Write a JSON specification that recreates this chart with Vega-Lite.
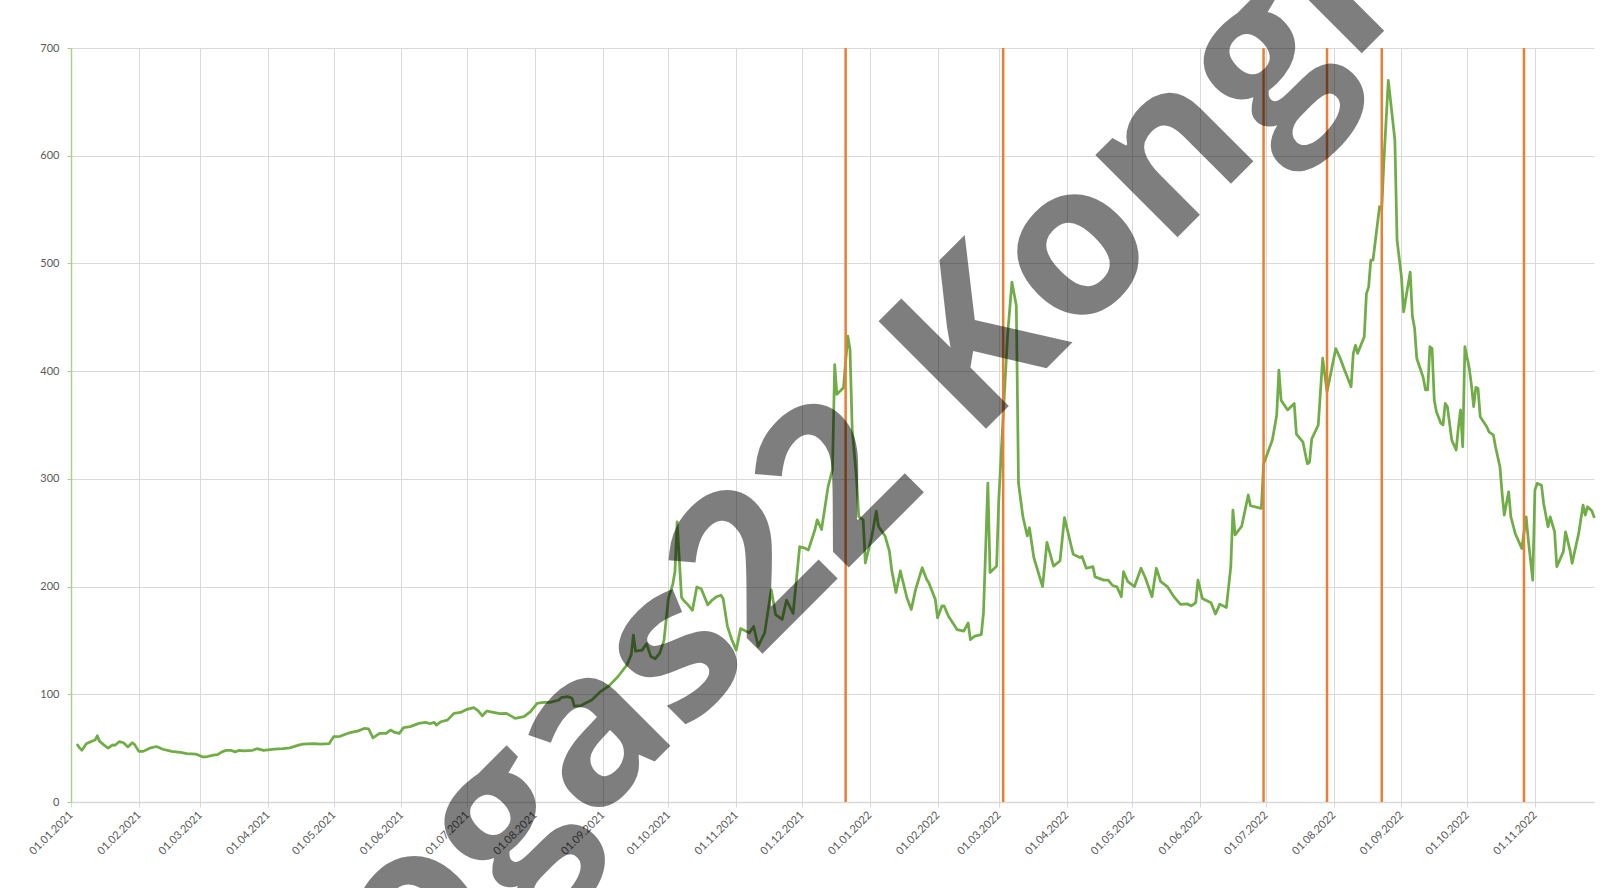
{
  "$schema": "https://vega.github.io/schema/vega-lite/v6.json",
  "autosize": {"type": "none"},
  "padding": {"left": 71, "top": 48, "right": 17, "bottom": 86},
  "width": 1523,
  "height": 754,
  "background": "white",
  "config": {
    "view": {"stroke": null},
    "axis": {"labelFont": "Lato", "labelFontSize": 11, "labelColor": "#595959", "gridColor": "#d9d9d9", "gridWidth": 1, "title": null}
  },
  "datasets": {
    "price": [
      {"d":"2021-01-04","v":53},{"d":"2021-01-05","v":50},{"d":"2021-01-06","v":48},{"d":"2021-01-08","v":54},{"d":"2021-01-10","v":56},{"d":"2021-01-12","v":57.5},{"d":"2021-01-13","v":61.5},{"d":"2021-01-14","v":56.5},{"d":"2021-01-16","v":53},{"d":"2021-01-18","v":50},{"d":"2021-01-20","v":53},{"d":"2021-01-21","v":52.5},{"d":"2021-01-23","v":56},{"d":"2021-01-25","v":55},{"d":"2021-01-27","v":51},{"d":"2021-01-29","v":55},{"d":"2021-01-30","v":53.5},
      {"d":"2021-02-01","v":47},{"d":"2021-02-03","v":47},{"d":"2021-02-06","v":50},{"d":"2021-02-09","v":51.5},{"d":"2021-02-12","v":49},{"d":"2021-02-16","v":47},{"d":"2021-02-20","v":46},{"d":"2021-02-23","v":45},{"d":"2021-02-27","v":44.5},
      {"d":"2021-03-02","v":42},{"d":"2021-03-04","v":42},{"d":"2021-03-07","v":43.5},{"d":"2021-03-09","v":44},{"d":"2021-03-11","v":46.5},{"d":"2021-03-13","v":48},{"d":"2021-03-15","v":48},{"d":"2021-03-17","v":46.5},{"d":"2021-03-19","v":48},{"d":"2021-03-21","v":47.5},{"d":"2021-03-25","v":48},{"d":"2021-03-27","v":49.5},{"d":"2021-03-30","v":48},
      {"d":"2021-04-04","v":49},{"d":"2021-04-08","v":49.5},{"d":"2021-04-11","v":50.3},{"d":"2021-04-15","v":52.8},{"d":"2021-04-17","v":53.7},{"d":"2021-04-22","v":54.3},{"d":"2021-04-25","v":53.7},{"d":"2021-04-29","v":54.3},
      {"d":"2021-05-01","v":60.6},{"d":"2021-05-04","v":61},{"d":"2021-05-07","v":63.4},{"d":"2021-05-09","v":64.6},{"d":"2021-05-12","v":65.8},{"d":"2021-05-15","v":68.3},{"d":"2021-05-17","v":68},{"d":"2021-05-19","v":59.6},{"d":"2021-05-22","v":63.7},{"d":"2021-05-25","v":63.7},{"d":"2021-05-27","v":66.8},{"d":"2021-05-29","v":64.6},{"d":"2021-05-31","v":63.7},
      {"d":"2021-06-02","v":69},{"d":"2021-06-05","v":70},{"d":"2021-06-09","v":73},{"d":"2021-06-12","v":74},{"d":"2021-06-14","v":72.7},{"d":"2021-06-16","v":74},{"d":"2021-06-17","v":71.4},{"d":"2021-06-19","v":74.5},{"d":"2021-06-22","v":76},{"d":"2021-06-25","v":82.3},{"d":"2021-06-28","v":83.2},
      {"d":"2021-07-01","v":86},{"d":"2021-07-04","v":87.6},{"d":"2021-07-06","v":84.8},{"d":"2021-07-08","v":80},{"d":"2021-07-10","v":84.5},{"d":"2021-07-13","v":83.2},{"d":"2021-07-16","v":82},{"d":"2021-07-19","v":82.3},{"d":"2021-07-21","v":80},{"d":"2021-07-23","v":77.6},{"d":"2021-07-27","v":79.2},{"d":"2021-07-30","v":83.9},
      {"d":"2021-08-02","v":91.6},{"d":"2021-08-05","v":92.5},{"d":"2021-08-08","v":92.5},{"d":"2021-08-12","v":94.7},{"d":"2021-08-13","v":96.9},{"d":"2021-08-16","v":97.8},{"d":"2021-08-18","v":96.3},{"d":"2021-08-19","v":89},{"d":"2021-08-22","v":89.4},{"d":"2021-08-24","v":91.6},{"d":"2021-08-27","v":94.7},{"d":"2021-08-31","v":102.5},
      {"d":"2021-09-04","v":108},{"d":"2021-09-08","v":116.5},{"d":"2021-09-12","v":127},{"d":"2021-09-14","v":136.6},{"d":"2021-09-15","v":155},{"d":"2021-09-16","v":140},{"d":"2021-09-19","v":141},{"d":"2021-09-21","v":147},{"d":"2021-09-23","v":135},{"d":"2021-09-25","v":133},{"d":"2021-09-27","v":138},{"d":"2021-09-29","v":150},
      {"d":"2021-10-01","v":189},{"d":"2021-10-03","v":202},{"d":"2021-10-04","v":214},{"d":"2021-10-05","v":260},{"d":"2021-10-07","v":190},{"d":"2021-10-08","v":187},{"d":"2021-10-10","v":183},{"d":"2021-10-12","v":178},{"d":"2021-10-14","v":199.5},{"d":"2021-10-16","v":198},{"d":"2021-10-19","v":183},{"d":"2021-10-21","v":187.5},{"d":"2021-10-23","v":190.6},{"d":"2021-10-25","v":192},{"d":"2021-10-26","v":189},{"d":"2021-10-28","v":163},{"d":"2021-10-30","v":150.6},
      {"d":"2021-11-01","v":141},{"d":"2021-11-03","v":161},{"d":"2021-11-07","v":157},{"d":"2021-11-09","v":163},{"d":"2021-11-11","v":144.5},{"d":"2021-11-14","v":157},{"d":"2021-11-17","v":197},{"d":"2021-11-19","v":174},{"d":"2021-11-22","v":169.5},{"d":"2021-11-24","v":187.5},{"d":"2021-11-27","v":175},{"d":"2021-11-30","v":237},
      {"d":"2021-12-02","v":236},{"d":"2021-12-04","v":234},{"d":"2021-12-07","v":253},{"d":"2021-12-08","v":262},{"d":"2021-12-10","v":253},{"d":"2021-12-13","v":293},{"d":"2021-12-15","v":308.5},{"d":"2021-12-16","v":406},{"d":"2021-12-17","v":378.5},{"d":"2021-12-20","v":384.5},{"d":"2021-12-22","v":432.5},{"d":"2021-12-23","v":420},{"d":"2021-12-24","v":346},{"d":"2021-12-26","v":299.5},{"d":"2021-12-27","v":265},{"d":"2021-12-29","v":262},{"d":"2021-12-30","v":222},
      {"d":"2022-01-02","v":247},{"d":"2022-01-04","v":270},{"d":"2022-01-05","v":256},{"d":"2022-01-08","v":247},{"d":"2022-01-10","v":233},{"d":"2022-01-11","v":216},{"d":"2022-01-13","v":194.5},{"d":"2022-01-15","v":214.5},{"d":"2022-01-18","v":189.6},{"d":"2022-01-20","v":178.7},{"d":"2022-01-22","v":197.4},{"d":"2022-01-25","v":217.5},{"d":"2022-01-27","v":206.7},{"d":"2022-01-28","v":203.6},{"d":"2022-01-31","v":188},
      {"d":"2022-02-01","v":171},{"d":"2022-02-03","v":182},{"d":"2022-02-04","v":182},{"d":"2022-02-06","v":172.5},{"d":"2022-02-10","v":160},{"d":"2022-02-13","v":158.6},{"d":"2022-02-15","v":166.3},{"d":"2022-02-16","v":150.8},{"d":"2022-02-18","v":154},{"d":"2022-02-21","v":155.4},{"d":"2022-02-22","v":175.5},{"d":"2022-02-24","v":296},{"d":"2022-02-25","v":213},{"d":"2022-02-28","v":219},
      {"d":"2022-03-01","v":281},{"d":"2022-03-03","v":358},{"d":"2022-03-05","v":433},{"d":"2022-03-07","v":482.6},{"d":"2022-03-09","v":461},{"d":"2022-03-10","v":296},{"d":"2022-03-12","v":265},{"d":"2022-03-14","v":247},{"d":"2022-03-15","v":254.6},{"d":"2022-03-17","v":227},{"d":"2022-03-21","v":200},{"d":"2022-03-23","v":241},{"d":"2022-03-26","v":219},{"d":"2022-03-29","v":224},{"d":"2022-03-31","v":264},
      {"d":"2022-04-04","v":230},{"d":"2022-04-07","v":227},{"d":"2022-04-08","v":228},{"d":"2022-04-10","v":217},{"d":"2022-04-13","v":218.5},{"d":"2022-04-14","v":209},{"d":"2022-04-18","v":206},{"d":"2022-04-20","v":206},{"d":"2022-04-22","v":201},{"d":"2022-04-24","v":199.7},{"d":"2022-04-26","v":190.6},{"d":"2022-04-27","v":213.8},{"d":"2022-04-29","v":204.5},
      {"d":"2022-05-02","v":200},{"d":"2022-05-05","v":217},{"d":"2022-05-07","v":208},{"d":"2022-05-10","v":190.6},{"d":"2022-05-12","v":217},{"d":"2022-05-14","v":204.5},{"d":"2022-05-17","v":200},{"d":"2022-05-20","v":190.6},{"d":"2022-05-23","v":183.5},{"d":"2022-05-26","v":184},{"d":"2022-05-28","v":182},{"d":"2022-05-30","v":185},{"d":"2022-05-31","v":206},
      {"d":"2022-06-02","v":189},{"d":"2022-06-06","v":185},{"d":"2022-06-08","v":174.5},{"d":"2022-06-10","v":183.7},{"d":"2022-06-13","v":180.6},{"d":"2022-06-15","v":218},{"d":"2022-06-16","v":271},{"d":"2022-06-17","v":248},{"d":"2022-06-20","v":256},{"d":"2022-06-23","v":285},{"d":"2022-06-24","v":275},{"d":"2022-06-29","v":272.6},{"d":"2022-06-30","v":313.8},
      {"d":"2022-07-04","v":336},{"d":"2022-07-06","v":359},{"d":"2022-07-07","v":401},{"d":"2022-07-08","v":373},{"d":"2022-07-11","v":364},{"d":"2022-07-14","v":370},{"d":"2022-07-15","v":341.6},{"d":"2022-07-18","v":334},{"d":"2022-07-20","v":314},{"d":"2022-07-21","v":315.5},{"d":"2022-07-22","v":337},{"d":"2022-07-25","v":350},{"d":"2022-07-27","v":412},{"d":"2022-07-29","v":381},
      {"d":"2022-08-02","v":421},{"d":"2022-08-04","v":412},{"d":"2022-08-06","v":401},{"d":"2022-08-09","v":385.6},{"d":"2022-08-10","v":416.5},{"d":"2022-08-11","v":424},{"d":"2022-08-12","v":416.5},{"d":"2022-08-15","v":432},{"d":"2022-08-16","v":472},{"d":"2022-08-17","v":478},{"d":"2022-08-18","v":503},{"d":"2022-08-19","v":503},{"d":"2022-08-22","v":552.7},{"d":"2022-08-23","v":549.6},{"d":"2022-08-24","v":596},{"d":"2022-08-26","v":670},{"d":"2022-08-29","v":614.6},{"d":"2022-08-30","v":521.7},
      {"d":"2022-09-01","v":487.7},{"d":"2022-09-02","v":455},{"d":"2022-09-05","v":492},{"d":"2022-09-06","v":451},{"d":"2022-09-07","v":440},{"d":"2022-09-08","v":412},{"d":"2022-09-11","v":393.7},{"d":"2022-09-12","v":382.5},{"d":"2022-09-13","v":382.5},{"d":"2022-09-14","v":422.7},{"d":"2022-09-15","v":421},{"d":"2022-09-16","v":373},{"d":"2022-09-17","v":362.3},{"d":"2022-09-19","v":351.6},{"d":"2022-09-20","v":350},{"d":"2022-09-21","v":370},{"d":"2022-09-22","v":367},{"d":"2022-09-24","v":336},{"d":"2022-09-26","v":326.8},{"d":"2022-09-27","v":347},{"d":"2022-09-28","v":364},{"d":"2022-09-29","v":329.8},{"d":"2022-09-30","v":422.7},
      {"d":"2022-10-02","v":402.6},{"d":"2022-10-03","v":387},{"d":"2022-10-04","v":367},{"d":"2022-10-05","v":385},{"d":"2022-10-06","v":384},{"d":"2022-10-07","v":357.6},{"d":"2022-10-10","v":348.4},{"d":"2022-10-11","v":343.7},{"d":"2022-10-13","v":340.7},{"d":"2022-10-14","v":329.8},{"d":"2022-10-16","v":311.3},{"d":"2022-10-17","v":286.5},{"d":"2022-10-18","v":266.4},{"d":"2022-10-20","v":288},{"d":"2022-10-21","v":264.8},{"d":"2022-10-23","v":249.3},{"d":"2022-10-25","v":240},{"d":"2022-10-26","v":235.4},{"d":"2022-10-28","v":264.8},{"d":"2022-10-29","v":243},{"d":"2022-10-31","v":206},
      {"d":"2022-11-01","v":289.6},{"d":"2022-11-02","v":295.8},{"d":"2022-11-04","v":294},{"d":"2022-11-05","v":277},{"d":"2022-11-07","v":255.5},{"d":"2022-11-08","v":264.8},{"d":"2022-11-10","v":250.8},{"d":"2022-11-11","v":218.4},{"d":"2022-11-14","v":232.4},{"d":"2022-11-15","v":250.8},{"d":"2022-11-17","v":233.9},{"d":"2022-11-18","v":221.6},{"d":"2022-11-21","v":249.4},{"d":"2022-11-23","v":275.7},{"d":"2022-11-24","v":266.4},{"d":"2022-11-25","v":274},{"d":"2022-11-27","v":270.4},{"d":"2022-11-28","v":264.8}
    ],
    "events": [
      {"d":"2021-12-21"},{"d":"2022-03-03"},{"d":"2022-06-30"},{"d":"2022-07-29"},{"d":"2022-08-23"},{"d":"2022-10-27"}
    ],
    "wm_right": [{"d":"2022-01-28","v":292,"t":"Biogas22"}],
    "wm_left": [{"d":"2022-02-17","v":334,"t":"Kongress"}]
  },
  "layer": [
    {
      "data": {"name": "price"},
      "mark": {"type": "line", "color": "#70ad47", "strokeWidth": 2.75, "strokeJoin": "round", "strokeCap": "round"},
      "encoding": {
        "x": {
          "field": "d", "type": "temporal",
          "scale": {"type": "utc", "domain": [{"year": 2021, "month": 1, "date": 1, "utc": true}, {"year": 2022, "month": 11, "date": 28, "utc": true}]},
          "axis": {
            "tickCount": {"interval": "month", "step": 1},
            "labelExpr": "utcFormat(datum.value, '%d.%m.%Y')",
            "labelAngle": -45, "labelAlign": "right", "labelBaseline": "middle",
            "labelPadding": 6, "labelOverlap": false, "labelFlush": false,
            "domainColor": "#d9d9d9", "domainWidth": 1.5,
            "tickColor": "#d9d9d9", "tickSize": 5, "grid": true
          }
        },
        "y": {
          "field": "v", "type": "quantitative",
          "scale": {"domain": [0, 700], "nice": false},
          "axis": {
            "values": [0, 100, 200, 300, 400, 500, 600, 700],
            "domainColor": "#a9d18e", "domainWidth": 1.5,
            "tickColor": "#a9d18e", "tickSize": 4, "labelPadding": 8, "grid": true
          }
        }
      }
    },
    {
      "data": {"name": "events"},
      "mark": {"type": "rule", "color": "#ed7d31", "strokeWidth": 2.5},
      "encoding": {"x": {"field": "d", "type": "temporal"}}
    },
    {
      "data": {"name": "wm_right"},
      "mark": {"type": "text", "angle": 315, "align": "right", "baseline": "alphabetic", "font": "Open Sans", "fontWeight": "bold", "fontSize": 213, "color": "#000000", "opacity": 0.5},
      "encoding": {
        "x": {"field": "d", "type": "temporal"},
        "y": {"field": "v", "type": "quantitative"},
        "text": {"field": "t"}
      }
    },
    {
      "data": {"name": "wm_left"},
      "mark": {"type": "text", "angle": 315, "align": "left", "baseline": "alphabetic", "font": "Open Sans", "fontWeight": "bold", "fontSize": 213, "color": "#000000", "opacity": 0.5},
      "encoding": {
        "x": {"field": "d", "type": "temporal"},
        "y": {"field": "v", "type": "quantitative"},
        "text": {"field": "t"}
      }
    }
  ]
}
